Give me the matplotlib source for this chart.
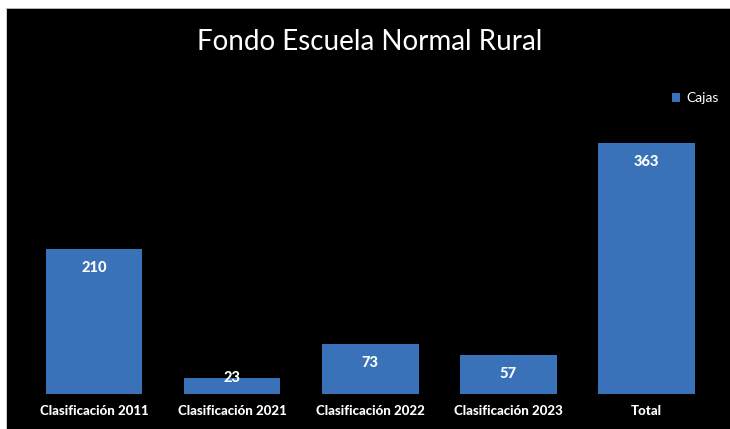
import matplotlib
matplotlib.use("Agg")
import matplotlib.pyplot as plt
from matplotlib.patches import Rectangle

categories = ["Clasificación 2011", "Clasificación 2021", "Clasificación 2022", "Clasificación 2023", "Total"]
values = [210, 23, 73, 57, 363]
series_name = "Cajas"
title = "Fondo Escuela Normal Rural"

plt.rcParams['font.family'] = ['Lato', 'DejaVu Sans']

W, H = 730, 429
fig = plt.figure(figsize=(W / 100, H / 100), dpi=100, facecolor="white")

# black chart area with white border on top/left
fig.patches.append(Rectangle((7 / W, 0), 1, (H - 9) / H, transform=fig.transFigure,
                             facecolor="black", edgecolor="none", zorder=-5))
fig.patches.append(Rectangle((7 / W, (H - 9) / H), 1, 1.2 / H, transform=fig.transFigure,
                             facecolor="#b0b0b0", edgecolor="none", zorder=-5))
fig.patches.append(Rectangle((6 / W, 0), 1.2 / W, (H - 8) / H, transform=fig.transFigure,
                             facecolor="#c8c8c8", edgecolor="none", zorder=-5))

ax = fig.add_axes([25 / W, 35 / H, 690.5 / W, 276.6 / H])
ax.set_facecolor("none")
bar_color = "#3a72b9"
x = range(len(categories))
bars = ax.bar(x, values, width=0.7, color=bar_color, label=series_name, zorder=2)
ax.set_xlim(-0.5, len(categories) - 0.5)
ax.set_ylim(0, 400)

for b, v in zip(bars, values):
    off = -19 if v > 40 else 0
    ax.annotate(str(v), (b.get_x() + b.get_width() / 2, v), xytext=(0, off),
                textcoords="offset pixels",
                ha="center", va="center", color="white", fontsize=10.5, fontweight="black", zorder=3)

ax.set_xticks(list(x))
ax.set_xticklabels(categories, color="white", fontsize=9.5, fontweight="black")
ax.tick_params(axis="x", length=0, pad=8)
ax.set_yticks([])
for s in ax.spines.values():
    s.set_visible(False)

fig.text(370 / W, 1 - 42 / H, title, ha="center", va="center", color="white", fontsize=20)

leg = ax.legend(loc="upper left", bbox_to_anchor=(672 / W, 1 - 92 / H), bbox_transform=fig.transFigure,
                frameon=False, fontsize=10, handlelength=0.6, handleheight=0.6, handletextpad=0.4,
                borderpad=0, borderaxespad=0)
for t in leg.get_texts():
    t.set_color("white")

fig.savefig("out.png", dpi=100, facecolor="white")
